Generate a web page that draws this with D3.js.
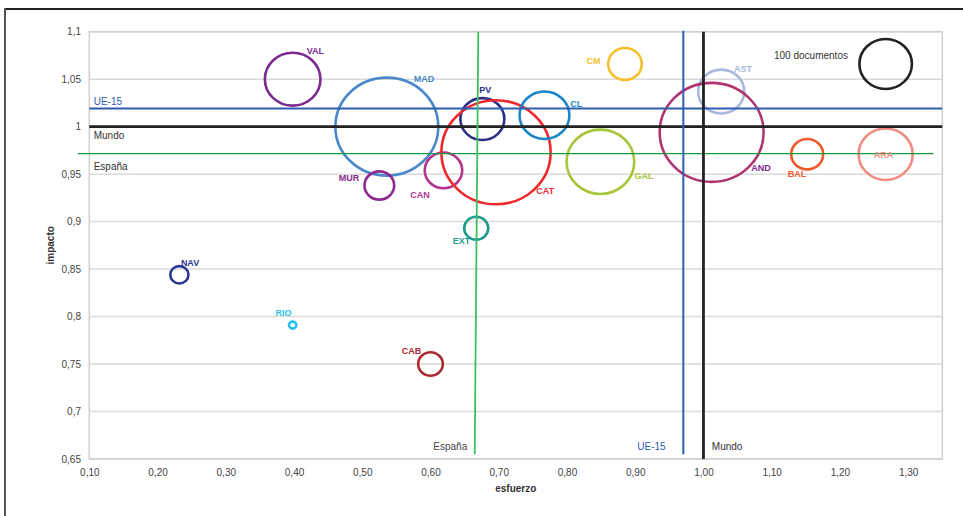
<!DOCTYPE html>
<html><head><meta charset="utf-8">
<script src="https://cdn.jsdelivr.net/npm/d3@7"></script>
<style>
html,body{margin:0;padding:0;background:#fff;}
svg{display:block;font-family:"Liberation Sans",Arial,sans-serif;}
</style></head>
<body>
<svg id="chart" width="963" height="516"></svg>
<script>
// ---------- data ----------
const regions    = ["VAL","MAD","MUR","CAN","PV","CAT","CL","CM","GAL","AST","AND","BAL","ARA","EXT","NAV","RIO","CAB"];
const esfuerzo   = [0.398,0.536,0.525,0.619,0.676,0.696,0.767,0.885,0.849,1.026,1.012,1.152,1.267,0.667,0.232,0.398,0.600];
const impacto    = [1.050,1.000,0.938,0.954,1.008,0.973,1.012,1.066,0.963,1.037,0.994,0.971,0.971,0.893,0.844,0.791,0.750];
const documentos = [112,384,32,51,70,433,90,41,166,77,392,37,106,21,12,2,22];
const colors     = ["#7b2b8f","#4a88c9","#8c2a90","#b3358f","#2c2f88","#ee2a2e","#1d86c8","#f6c02c","#a7c53a","#a9b9de","#b0346f","#f15a29","#f28b82","#1b9c8c","#2b3692","#2bc1ea","#a92a31"];
const labelColors= ["#7b2b8f","#4a88c9","#8c2a90","#b3358f","#2c2f88","#ee2a2e","#1d86c8","#f6c02c","#a7c53a","#a9b9de","#7b2b8f","#f15a29","#f28b82","#1b9c8c","#2b3692","#2bc1ea","#a92a31"];

const xTicks = [0.10,0.20,0.30,0.40,0.50,0.60,0.70,0.80,0.90,1.00,1.10,1.20,1.30];
const xTickLabels = ["0,10","0,20","0,30","0,40","0,50","0,60","0,70","0,80","0,90","1,00","1,10","1,20","1,30"];
const yTicks = [0.65,0.70,0.75,0.80,0.85,0.90,0.95,1.00,1.05,1.10];
const yTickLabels = ["0,65","0,7","0,75","0,8","0,85","0,9","0,95","1","1,05","1,1"];

// reference values
const mundoImpacto = 1.0, ue15Impacto = 1.019, espanaImpacto = 0.9716;
const mundoEsfuerzo = 1.0, ue15Esfuerzo = 0.9705;
const espanaEsfuerzo = [0.670, 0.6648]; // drawn top, bottom
const legendDocs = 100, legendLabel = "100 documentos";
const legendPos = [1.267, 1.066];

// label placement (pixel offsets from bubble centre)
const labelOffsets = {VAL:[14,-25],MAD:[27,-45],MUR:[-40.5,-5],CAN:[-33.3,28],PV:[-3.2,-26],CAT:[40.3,42],
  CL:[25.7,-8.6],CM:[-38.5,0.5],GAL:[34,17],AST:[12.7,-20],AND:[39.7,39],BAL:[-19.5,22.5],ARA:[-11.9,4.3],
  EXT:[-23.5,16],NAV:[1.5,-9],RIO:[-17.2,-9.3],CAB:[-28.8,-10.4]};

// ---------- layout ----------
const svg = d3.select("#chart");
const L = 89.3, R = 942.3, T = 31.7, B = 459;
const x = d3.scaleLinear().domain([0.1,1.35]).range([L,R]);
const y = d3.scaleLinear().domain([0.65,1.1]).range([B,T]);
const r = d3.scaleSqrt().domain([0,100]).range([0,25]);
const aspect = 1.05;

svg.append("rect").attr("width",963).attr("height",516).attr("fill","#fff");

// outer frame (top & left)
svg.append("line").attr("x1",4).attr("x2",963).attr("y1",9).attr("y2",9).attr("stroke","#222").attr("stroke-width",2);
svg.append("line").attr("x1",5).attr("x2",5).attr("y1",8).attr("y2",516).attr("stroke","#555").attr("stroke-width",2);

// gridlines
svg.append("g").selectAll("line").data(yTicks).join("line")
  .attr("x1",L).attr("x2",R).attr("y1",d=>y(d)).attr("y2",d=>y(d))
  .attr("stroke","#dadada").attr("stroke-width",1.5);
svg.append("rect").attr("x",L).attr("y",T).attr("width",R-L).attr("height",B-T)
  .attr("fill","none").attr("stroke","#d0d0d0").attr("stroke-width",1.5);

// axes
const yAxis = svg.append("g").attr("transform",`translate(${L},0)`)
  .call(d3.axisLeft(y).tickValues(yTicks).tickSize(0).tickPadding(8.3).tickFormat((d,i)=>yTickLabels[i]));
const xAxis = svg.append("g").attr("transform",`translate(0,${B})`)
  .call(d3.axisBottom(x).tickValues(xTicks).tickSize(0).tickPadding(9.6).tickFormat((d,i)=>xTickLabels[i]));
[yAxis,xAxis].forEach(g=>{
  g.select(".domain").remove();
  g.selectAll("text").attr("font-size",10).attr("fill","#444").attr("font-family","Liberation Sans, Arial, sans-serif");
});

svg.append("text").attr("x",(L+R)/2).attr("y",492).attr("text-anchor","middle")
  .attr("font-size",10).attr("font-weight","bold").attr("fill","#333").text("esfuerzo");
svg.append("text").attr("transform",`translate(54,${(T+B)/2}) rotate(-90)`).attr("text-anchor","middle")
  .attr("font-size",10).attr("font-weight","bold").attr("fill","#333").text("impacto");

// bubbles
const data = regions.map((k,i)=>({k,x:esfuerzo[i],y:impacto[i],d:documentos[i],c:colors[i],lc:labelColors[i]}));
svg.append("g").selectAll("ellipse").data(data).join("ellipse")
  .attr("cx",d=>x(d.x)).attr("cy",d=>y(d.y))
  .attr("rx",d=>r(d.d)*aspect).attr("ry",d=>r(d.d))
  .attr("fill","none").attr("stroke",d=>d.c).attr("stroke-width",2.6);

// legend bubble
svg.append("ellipse").attr("cx",x(legendPos[0])).attr("cy",y(legendPos[1]))
  .attr("rx",r(legendDocs)*aspect).attr("ry",r(legendDocs))
  .attr("fill","none").attr("stroke","#222").attr("stroke-width",2.6);
svg.append("text").attr("x",774).attr("y",59).attr("font-size",10).attr("fill","#333").text(legendLabel);

// reference lines
const ref = svg.append("g");
ref.append("line").attr("x1",L).attr("x2",R).attr("y1",y(ue15Impacto)).attr("y2",y(ue15Impacto))
  .attr("stroke","#2f5db0").attr("stroke-width",2);
ref.append("line").attr("x1",L).attr("x2",R).attr("y1",y(mundoImpacto)).attr("y2",y(mundoImpacto))
  .attr("stroke","#222").attr("stroke-width",2.8);
ref.append("line").attr("x1",x(0.0834)).attr("x2",x(1.337)).attr("y1",y(espanaImpacto)).attr("y2",y(espanaImpacto))
  .attr("stroke","#1a9a3c").attr("stroke-width",1.3);
ref.append("line").attr("x1",x(espanaEsfuerzo[0])).attr("x2",x(espanaEsfuerzo[1])).attr("y1",T).attr("y2",y(0.655))
  .attr("stroke","#3cc060").attr("stroke-width",1.8);
ref.append("line").attr("x1",x(ue15Esfuerzo)).attr("x2",x(ue15Esfuerzo)).attr("y1",T-1).attr("y2",y(0.655))
  .attr("stroke","#2f5db0").attr("stroke-width",2);
ref.append("line").attr("x1",x(mundoEsfuerzo)).attr("x2",x(mundoEsfuerzo)).attr("y1",T).attr("y2",B)
  .attr("stroke","#222").attr("stroke-width",2.8);

// reference labels
const refLab = (t,xx,yy,c,anchor)=>svg.append("text").attr("x",xx).attr("y",yy).attr("font-size",10)
  .attr("fill",c).attr("text-anchor",anchor||"start").text(t);
refLab("UE-15",93.7,104.5,"#2f5db0");
refLab("Mundo",93.7,139.3,"#333");
refLab("España",93.7,170,"#333");
refLab("España",x(espanaEsfuerzo[1])-7.5,450,"#444","end");
refLab("UE-15",x(ue15Esfuerzo)-17.7,450,"#2f5db0","end");
refLab("Mundo",x(mundoEsfuerzo)+8.4,450,"#333");

// bubble labels
svg.append("g").selectAll("text").data(data).join("text")
  .attr("x",d=>x(d.x)+labelOffsets[d.k][0]).attr("y",d=>y(d.y)+labelOffsets[d.k][1])
  .attr("font-size",9).attr("font-weight","bold").attr("fill",d=>d.lc).text(d=>d.k);
</script>
</body></html>
